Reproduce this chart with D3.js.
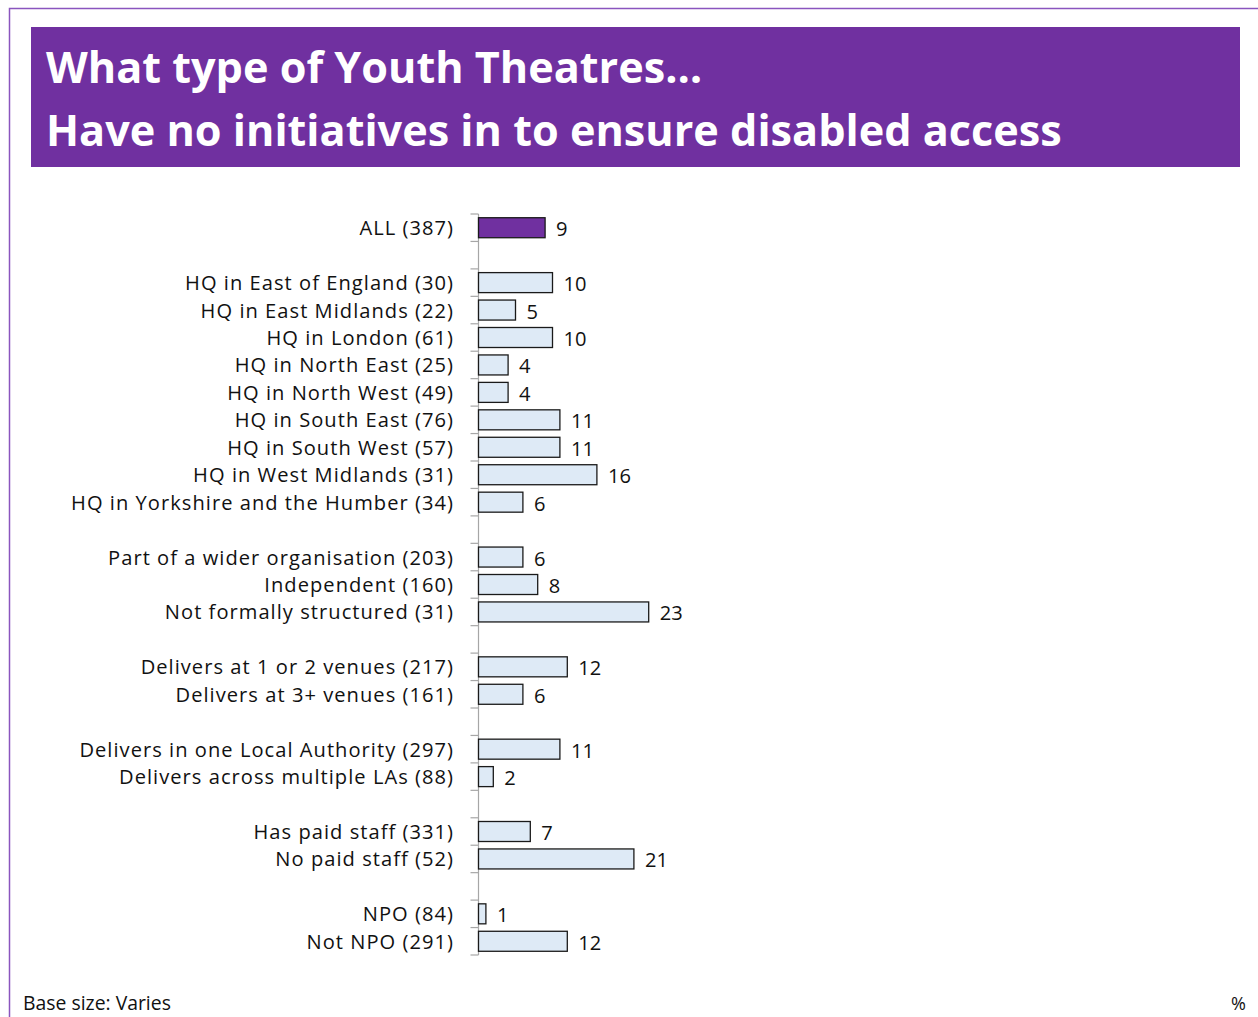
<!DOCTYPE html>
<html>
<head>
<meta charset="utf-8">
<script src="https://cdn.jsdelivr.net/npm/d3@7"></script>
<style>
  html, body { margin: 0; padding: 0; background: #fff; }
  svg { display: block; }
</style>
</head>
<body>
<svg id="chart" width="1258" height="1017"></svg>
<script>
// Row labels, in display order; null entries are spacer rows between groups
const categories = [
  "ALL (387)",
  null,
  "HQ in East of England (30)",
  "HQ in East Midlands (22)",
  "HQ in London (61)",
  "HQ in North East (25)",
  "HQ in North West (49)",
  "HQ in South East (76)",
  "HQ in South West (57)",
  "HQ in West Midlands (31)",
  "HQ in Yorkshire and the Humber (34)",
  null,
  "Part of a wider organisation (203)",
  "Independent (160)",
  "Not formally structured (31)",
  null,
  "Delivers at 1 or 2 venues (217)",
  "Delivers at 3+ venues (161)",
  null,
  "Delivers in one Local Authority (297)",
  "Delivers across multiple LAs (88)",
  null,
  "Has paid staff (331)",
  "No paid staff (52)",
  null,
  "NPO (84)",
  "Not NPO (291)"
];

// Percentage with no disabled-access initiatives, per row (null = spacer)
const values = [
  9,
  null,
  10, 5, 10, 4, 4, 11, 11, 16, 6,
  null,
  6, 8, 23,
  null,
  12, 6,
  null,
  11, 2,
  null,
  7, 21,
  null,
  1, 12
];

const titleLines = [
  "What type of Youth Theatres\u2026",
  "Have no initiatives in to ensure disabled access"
];
const footnote = "Base size: Varies";
const unitLabel = "%";

const PURPLE = "#7030A0";
const FONT = "'Open Sans', Lato, sans-serif";

const svg = d3.select("#chart");

// Scale a text selection's font size so its widest member spans `width` px
function fitWidth(sel, baseSize, width) {
  let maxW = 0;
  sel.each(function () { maxW = Math.max(maxW, this.getComputedTextLength()); });
  if (maxW > 0) sel.attr("font-size", baseSize * width / maxW);
}

// Widen letter spacing so the widest member of a selection spans `width` px
function spreadWidth(sel, width) {
  let maxW = 0, chars = 1;
  sel.each(function () {
    const w = this.getComputedTextLength();
    if (w > maxW) { maxW = w; chars = this.textContent.length; }
  });
  const ls = Math.max(0, (width - maxW) / chars);
  sel.attr("letter-spacing", ls.toFixed(3));
  return ls;
}

// Slide frame
svg.append("path")
  .attr("d", "M9.5,1017 V8.5 H1258")
  .attr("fill", "none")
  .attr("stroke", "#8A55BE")
  .attr("stroke-width", 1.5);

// Title banner
svg.append("rect")
  .attr("x", 31).attr("y", 27)
  .attr("width", 1209).attr("height", 140)
  .attr("fill", PURPLE);

const title = svg.append("g").selectAll("text")
  .data(titleLines)
  .join("text")
  .attr("x", 46)
  .attr("y", (d, i) => 83 + i * 63)
  .attr("fill", "#fff")
  .attr("font-family", FONT)
  .attr("font-weight", 700)
  .attr("font-size", 44)
  .text(d => d);
fitWidth(title, 44, 1016);

// Rows
const rows = categories.map((c, i) => ({ key: "r" + i, label: c, value: values[i] }));

const y = d3.scaleBand()
  .domain(rows.map(d => d.key))
  .range([214, 955])
  .padding(0);

const x = d3.scaleLinear()
  .domain([0, 25])
  .range([478.5, 478.5 + 185]);

const barH = 20;
const inset = (y.bandwidth() - barH) / 2;

// Axis line with ticks at row boundaries
const axisG = svg.append("g");
axisG.append("line")
  .attr("x1", x(0)).attr("x2", x(0))
  .attr("y1", y.range()[0]).attr("y2", y.range()[1])
  .attr("stroke", "#A6A6A6").attr("stroke-width", 1.2);
const boundaries = rows.map(d => y(d.key)).concat([y.range()[1]]);
axisG.selectAll("line.tick")
  .data(boundaries)
  .join("line")
  .attr("class", "tick")
  .attr("x1", x(0) - 8).attr("x2", x(0))
  .attr("y1", d => d).attr("y2", d => d)
  .attr("stroke", "#A6A6A6").attr("stroke-width", 1.2);

const dataRows = rows.filter(d => d.label !== null);
const LABEL_SIZE = 20.1;

// Category labels
const labels = svg.append("g").selectAll("text")
  .data(dataRows)
  .join("text")
  .attr("x", 453)
  .attr("y", d => y(d.key) + y.bandwidth() / 2 + 7.5)
  .attr("text-anchor", "end")
  .attr("fill", "#111")
  .attr("font-family", FONT)
  .attr("font-size", LABEL_SIZE)
  .text(d => d.label);
const ls = spreadWidth(labels, 383);
// trailing spacing after the last glyph would push right-aligned text left
labels.attr("dx", ls);

// Bars
svg.append("g").selectAll("rect")
  .data(dataRows)
  .join("rect")
  .attr("x", x(0))
  .attr("y", d => y(d.key) + inset)
  .attr("width", d => x(d.value) - x(0))
  .attr("height", barH)
  .attr("fill", (d, i) => i === 0 ? PURPLE : "#DEEAF6")
  .attr("stroke", "#1a1a1a")
  .attr("stroke-width", 1.3);

// Value labels
svg.append("g").selectAll("text")
  .data(dataRows)
  .join("text")
  .attr("x", d => x(d.value) + 11)
  .attr("y", d => y(d.key) + y.bandwidth() / 2 + 8.5)
  .attr("fill", "#111")
  .attr("font-family", FONT)
  .attr("font-size", LABEL_SIZE)
  .text(d => d.value);

// Footer
const foot = svg.append("text")
  .attr("x", 23).attr("y", 1010)
  .attr("fill", "#111")
  .attr("font-family", FONT)
  .attr("font-size", 17)
  .text(footnote);
fitWidth(foot, 17, 148);

svg.append("text")
  .attr("x", 1246).attr("y", 1010)
  .attr("text-anchor", "end")
  .attr("fill", "#111")
  .attr("font-family", FONT)
  .attr("font-size", 18)
  .text(unitLabel);
</script>
</body>
</html>
